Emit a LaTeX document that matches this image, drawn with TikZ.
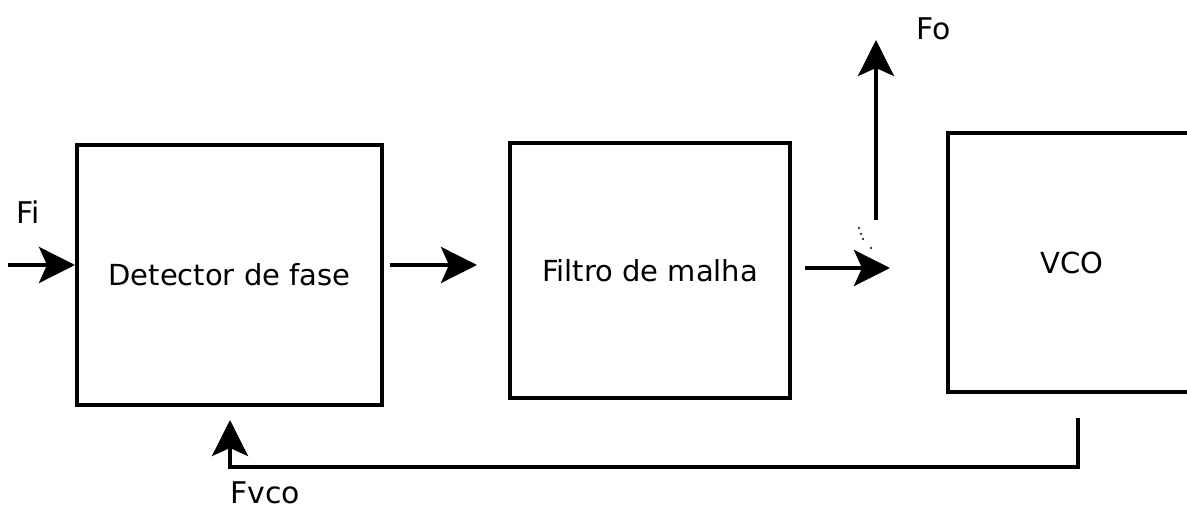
\documentclass[tikz,border=0pt]{standalone}
\usepackage{fontspec}
\setmainfont{DejaVu Sans}
\usetikzlibrary{arrows.meta,positioning}

\begin{document}
\begin{tikzpicture}[
  x=0.02cm,y=-0.02cm,
  blk/.style={draw,line width=2.3pt,font=\fontsize{16.5}{19}\selectfont},
  flow/.style={line width=2.3pt,-{Stealth[length=0.72cm,width=0.72cm,inset=0.16cm]}},
  lbl/.style={font=\fontsize{17}{20}\selectfont},
]
\useasboundingbox (0,0) rectangle (1187,509);
\clip (0,0) rectangle (1187,509);

% blocos
\node[blk,minimum width=6.1cm,minimum height=5.2cm] (det) at (229.5,275) {Detector de fase};
\node[blk,minimum width=5.6cm,minimum height=5.1cm] (fil) at (650,270.5) {Filtro de malha};
\node[blk,minimum width=4.96cm,minimum height=5.18cm] (vco) at (1072,262.5) {VCO};

% pontos de ligacao
\coordinate (fi)  at (8,265);
\coordinate (d1)  at (390,265);
\coordinate (f0)  at (477,265);
\coordinate (f1)  at (805,268);
\coordinate (v0)  at (890,268);
\coordinate (o0)  at (876,220);
\coordinate (o1)  at (876,40);
\coordinate (r0)  at (1078,418);
\coordinate (r1)  at (1078,467);
\coordinate (r2)  at (230,467);
\coordinate (r3)  at (230,420);

\draw[flow] (fi) -- (fi -| det.west);
\draw[flow] (d1) -- (f0);
\draw[flow] (f1) -- (v0);
\draw[flow] (o0) -- (o1);
\draw[flow] (r0) -- (r1) -- (r2) -- (r3);

% rotulos
\node[lbl] (lfi)   at (28,212)  {Fi};
\node[lbl] (lfo)   at (934,29)  {Fo};
\node[lbl] (lfvco) at (265,493) {Fvco};

% pontinhos
\foreach \p in {(859,228),(861,234),(863,239),(871,248)}
  \fill \p circle (1.2);
\end{tikzpicture}
\end{document}
